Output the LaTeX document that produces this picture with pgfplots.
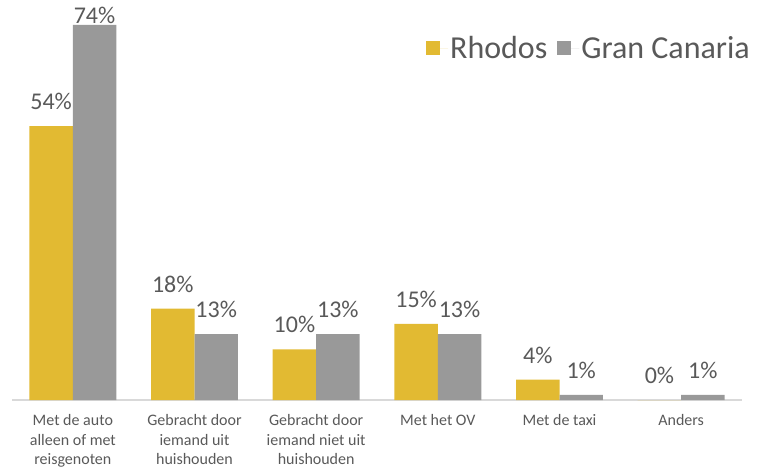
\documentclass[border=0pt]{standalone}
\usepackage{fontspec}
\setmainfont{Carlito}
\usepackage{pgfplots}
\pgfplotsset{compat=1.18}

\definecolor{rhodos}{RGB}{226,186,50}
\definecolor{canaria}{RGB}{153,153,153}
\definecolor{txt}{RGB}{89,89,89}
\definecolor{axisline}{RGB}{217,217,217}

\begin{document}
\begin{tikzpicture}
\path[use as bounding box] (-12bp,-70bp) rectangle (745bp,400bp);
\begin{axis}[
  scale only axis,
  width=730bp, height=395.5bp,
  xmin=-0.5, xmax=5.5,
  ymin=0, ymax=78,
  ybar=0pt,
  bar width=0.357,
  axis x line*=bottom,
  axis y line=none,
  x axis line style={draw=axisline, line width=1.3bp, -},
  xtick=data,
  major tick length=0pt,
  ytick=\empty,
  xticklabels={
    {Met de auto\\alleen of met\\reisgenoten},
    {Gebracht door\\iemand uit\\huishouden},
    {Gebracht door\\iemand niet uit\\huishouden},
    {Met het OV},
    {Met de taxi},
    {Anders}},
  xticklabel style={font=\fontsize{16bp}{19.5bp}\selectfont, text=txt,
    align=center, anchor=north, yshift=-11bp},
  visualization depends on={value \thisrow{off} \as \off},
  nodes near coords={\pgfmathprintnumber[assume math mode=true]{\pgfplotspointmeta}\%},
  nodes near coords style={font=\fontsize{24bp}{28bp}\selectfont, text=txt, yshift=\off bp},
  clip=false,
  legend columns=2,
  legend style={at={(1.0137,0.89)}, anchor=east, draw=none, fill=none,
    inner sep=0pt, font=\fontsize{32bp}{36bp}\selectfont, text=txt,
    /tikz/every even column/.append style={column sep=8bp}},
  legend image code/.code={\fill[#1] (0bp,-7bp) rectangle (14bp,7bp);
    \path (0bp,0bp) -- (22bp,0bp);},
]
\addplot[fill=rhodos, draw=none] table {
x y  off
0 54 13
1 18 13
2 10 13
3 15 13
4 4  13
5 0  13
};
\addplot[fill=canaria, draw=none] table {
x y  off
0 74 -2
1 13 13
2 13 13
3 13 13
4 1  13
5 1  13
};
\legend{Rhodos, Gran Canaria}
\end{axis}
\end{tikzpicture}
\end{document}
